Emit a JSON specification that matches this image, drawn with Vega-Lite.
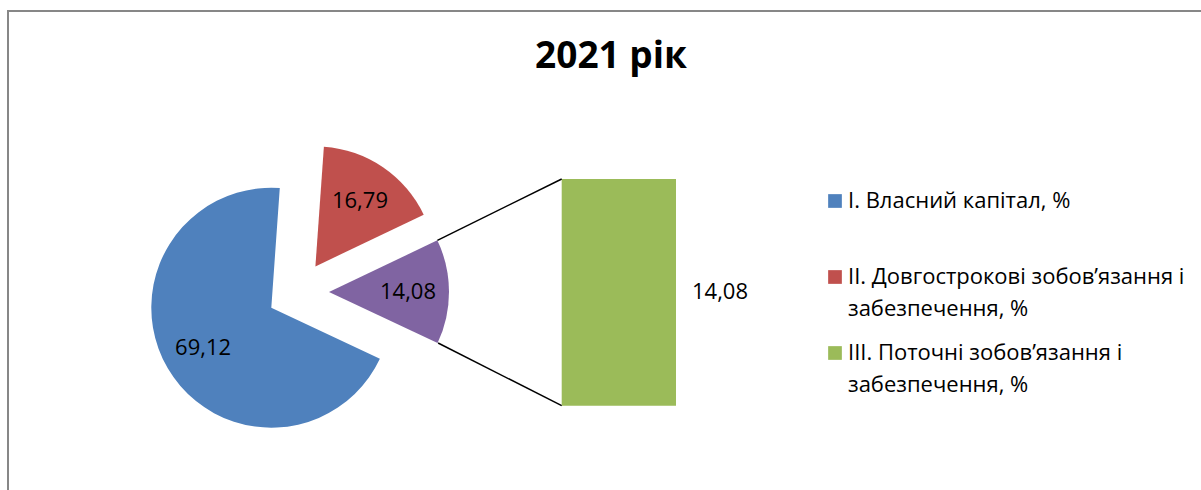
{
  "$schema": "https://vega.github.io/schema/vega-lite/v6.json",
  "width": 1200,
  "height": 482,
  "autosize": {"type": "none"},
  "padding": {"left": 8, "top": 11, "right": 0, "bottom": 0},
  "background": "white",
  "config": {
    "view": {"stroke": "#878787", "strokeWidth": 2},
    "font": "Open Sans",
    "style": {"guide-label": {"lineHeight": 32}},
    "locale": {"number": {"decimal": ",", "thousands": " ", "grouping": [3], "currency": ["", " грн"]}}
  },
  "title": {
    "text": "2021 рік",
    "font": "Open Sans",
    "fontSize": 37,
    "fontWeight": "bold",
    "color": "black",
    "anchor": "middle",
    "baseline": "alphabetic",
    "offset": 0,
    "dy": 94,
    "dx": 3
  },
  "data": {
    "values": [
      {"code": "I", "category": "І. Власний капітал, %", "value": 69.12},
      {"code": "II", "category": "ІІ. Довгострокові зобов’язання і забезпечення, %", "value": 16.79},
      {"code": "III", "category": "ІІІ. Поточні зобов’язання і забезпечення, %", "value": 14.08}
    ]
  },
  "transform": [
    {"stack": "value", "groupby": [], "sort": [{"field": "category", "order": "ascending"}], "as": ["t0", "t1"]},
    {"calculate": "(datum.t0 + datum.t1) / 2", "as": "tmid"},
    {"calculate": "datum.value / 2", "as": "half"}
  ],
  "layer": [
    {
      "transform": [{"filter": "datum.code == 'I'"}],
      "mark": {"type": "arc", "x": 290, "y": 281, "radius": 120, "xOffset": -26.7, "yOffset": 15.7},
      "encoding": {
        "theta": {"field": "t0", "type": "quantitative", "scale": {"domain": [0, 99.99], "range": [2.0106, 8.2938]}},
        "theta2": {"field": "t1"},
        "color": {
          "field": "category",
          "type": "nominal",
          "scale": {
            "domain": ["І. Власний капітал, %", "ІІ. Довгострокові зобов’язання і забезпечення, %", "ІІІ. Поточні зобов’язання і забезпечення, %"],
            "range": ["#4F81BD", "#C0504D", "#9BBB59"]
          },
          "legend": {
            "orient": "none",
            "legendX": 816,
            "legendY": 179,
            "title": null,
            "padding": 0,
            "symbolType": "square",
            "symbolSize": 188,
            "symbolStrokeWidth": 0,
            "labelFont": "Open Sans",
            "labelFontSize": 22,
            "labelColor": "black",
            "labelLimit": 600,
            "labelOffset": 2,
            "rowPadding": 22,
            "labelExpr": "indexof(datum.label, ' і ') > 0 ? split(replace(datum.label, ' і ', ' і|'), '|') : [datum.label, '']"
          }
        }
      }
    },
    {
      "transform": [{"filter": "datum.code == 'II'"}],
      "mark": {"type": "arc", "x": 290, "y": 281, "radius": 120, "xOffset": 17.4, "yOffset": -25.6},
      "encoding": {
        "theta": {"field": "t0", "type": "quantitative"},
        "theta2": {"field": "t1"},
        "color": {"field": "category", "type": "nominal"}
      }
    },
    {
      "transform": [{"filter": "datum.code == 'III'"}],
      "mark": {"type": "arc", "x": 290, "y": 281, "radius": 120, "xOffset": 31, "yOffset": 0, "color": "#8064A2"},
      "encoding": {
        "theta": {"field": "t0", "type": "quantitative"},
        "theta2": {"field": "t1"}
      }
    },
    {
      "mark": {"type": "text", "x": 290, "y": 281, "radius": 110, "fontSize": 22, "font": "Open Sans", "color": "black", "align": "center", "baseline": "middle"},
      "encoding": {
        "theta": {"field": "tmid", "type": "quantitative"},
        "text": {"field": "value", "type": "quantitative", "format": ".2f"}
      }
    },
    {
      "transform": [{"filter": "datum.code == 'III'"}],
      "mark": {"type": "bar"},
      "encoding": {
        "x": {"field": "code", "type": "nominal", "scale": {"domain": ["III"], "range": [553.7, 668], "paddingInner": 0, "paddingOuter": 0}, "axis": null},
        "y": {"field": "value", "type": "quantitative", "scale": {"domain": [0, 14.08], "range": [394.7, 168], "nice": false, "zero": true}, "axis": null},
        "y2": {"datum": 0},
        "color": {"field": "category", "type": "nominal"}
      }
    },
    {
      "transform": [{"filter": "datum.code == 'III'"}],
      "mark": {"type": "text", "x": 712, "fontSize": 22, "font": "Open Sans", "color": "black", "align": "center", "baseline": "middle"},
      "encoding": {
        "y": {"field": "half", "type": "quantitative"},
        "text": {"field": "value", "type": "quantitative", "format": ".2f"}
      }
    },
    {
      "transform": [{"filter": "datum.code == 'III'"}],
      "mark": {"type": "rule", "color": "black", "strokeWidth": 1.5},
      "encoding": {
        "x": {"value": 553.7},
        "x2": {"value": 429.4},
        "y": {"field": "value", "type": "quantitative"},
        "y2": {"value": 229.3}
      }
    },
    {
      "transform": [{"filter": "datum.code == 'III'"}],
      "mark": {"type": "rule", "color": "black", "strokeWidth": 1.5},
      "encoding": {
        "x": {"value": 553.7},
        "x2": {"value": 430.1},
        "y": {"datum": 0, "type": "quantitative"},
        "y2": {"value": 332}
      }
    }
  ]
}
